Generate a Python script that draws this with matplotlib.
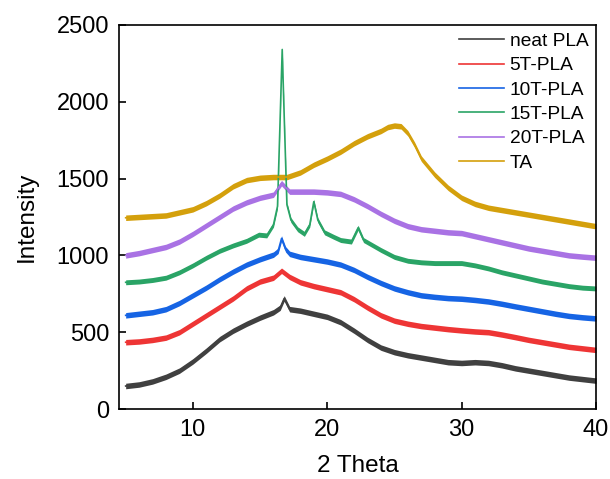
import numpy as np
import matplotlib.pyplot as plt

plt.rcParams['font.family'] = ['Liberation Sans', 'DejaVu Sans']

# 2 Theta positions (deg) and intensities of each XRD pattern
theta_neat = [5, 6, 7, 8, 9, 10, 11, 12, 13, 14, 15, 16, 16.5, 16.8, 17.2, 18, 19, 20, 21, 22, 23, 24, 25,
              26, 27, 28, 29, 30, 31, 32, 33, 34, 35, 36, 37, 38, 39, 40]
neat_pla = [150, 160, 180, 210, 250, 310, 380, 455, 510, 555, 595, 630, 660, 720, 650, 640, 620, 600, 565,
            510, 450, 400, 370, 350, 335, 320, 305, 300, 305, 300, 285, 265, 250, 235, 220, 205, 195, 185]

theta_5t = [5, 6, 7, 8, 9, 10, 11, 12, 13, 14, 15, 16, 16.6, 17.2, 18, 19, 20, 21, 22, 23, 24, 25,
            26, 27, 28, 29, 30, 31, 32, 33, 34, 35, 36, 37, 38, 39, 40]
pla_5t = [435, 440, 450, 465, 500, 555, 610, 665, 720, 785, 830, 855, 900, 860, 825, 800, 780, 760, 715,
          660, 610, 575, 555, 540, 530, 520, 512, 505, 500, 485, 468, 450, 435, 420, 405, 395, 385]

theta_10t = [5, 6, 7, 8, 9, 10, 11, 12, 13, 14, 15, 16, 16.35, 16.6, 16.9, 17.2, 18, 19, 20, 21, 22, 23, 24,
             25, 26, 27, 28, 29, 30, 31, 32, 33, 34, 35, 36, 37, 38, 39, 40]
pla_10t = [610, 620, 630, 650, 690, 740, 790, 845, 895, 940, 975, 1005, 1030, 1110, 1040, 1010, 990, 975,
           960, 940, 905, 860, 820, 785, 760, 740, 730, 722, 718, 710, 700, 685, 668, 652, 636, 620, 606,
           597, 590]

theta_15t = [5, 6, 7, 8, 9, 10, 11, 12, 13, 14, 14.9, 15.5, 16.0, 16.3, 16.5, 16.65, 16.8, 17.0, 17.3,
             17.8, 18.3, 18.7, 19.0, 19.3, 19.8, 20.5, 21, 21.8, 22.3, 22.7, 23.5, 24, 25, 26, 27, 28, 29,
             30, 31, 32, 33, 34, 35, 36, 37, 38, 39, 40]
pla_15t = [825, 830, 840, 855, 890, 935, 985, 1030, 1065, 1095, 1135, 1130, 1200, 1320, 1900, 2340, 1900,
           1330, 1230, 1170, 1140, 1200, 1350, 1230, 1150, 1120, 1100, 1090, 1180, 1100, 1060, 1035, 990,
           965, 955, 950, 950, 950, 935, 915, 890, 870, 850, 830, 815, 800, 790, 785]

theta_20t = [5, 6, 7, 8, 9, 10, 11, 12, 13, 14, 15, 16, 16.6, 17.2, 18, 19, 20, 21, 22, 23, 24, 25,
             26, 27, 28, 29, 30, 31, 32, 33, 34, 35, 36, 37, 38, 39, 40]
pla_20t = [1000, 1015, 1035, 1055, 1090, 1140, 1195, 1250, 1305, 1345, 1375, 1395, 1470, 1415, 1415, 1415,
           1410, 1400, 1365, 1320, 1270, 1225, 1190, 1170, 1160, 1150, 1145, 1125, 1105, 1085, 1065, 1045,
           1030, 1015, 1000, 992, 985]

theta_ta = [5, 6, 7, 8, 9, 10, 11, 12, 13, 14, 15, 16, 17, 18, 19, 20, 21, 22, 23, 24, 24.5, 25, 25.5,
            26, 26.5, 27, 28, 29, 30, 31, 32, 33, 34, 35, 36, 37, 38, 39, 40]
ta = [1245, 1250, 1255, 1260, 1280, 1300, 1340, 1390, 1450, 1490, 1505, 1510, 1510, 1540, 1590, 1630, 1675,
      1730, 1775, 1810, 1835, 1845, 1840, 1795, 1720, 1630, 1525, 1440, 1375, 1335, 1310, 1295, 1280,
      1265, 1250, 1235, 1220, 1205, 1190]

labels = ['neat PLA', '5T-PLA', '10T-PLA', '15T-PLA', '20T-PLA', 'TA']
colors = ['#404040', '#EE3535', '#1664E4', '#2AA466', '#A972E4', '#D4A00C']
noise = [18, 18, 18, 16, 18, 18]  # half-width of the counting-noise band

fig = plt.figure(figsize=(6.1, 4.79), dpi=100)
ax = fig.add_axes([0.195, 0.146, 0.782, 0.802])

series = [(theta_neat, neat_pla), (theta_5t, pla_5t), (theta_10t, pla_10t),
          (theta_15t, pla_15t), (theta_20t, pla_20t), (theta_ta, ta)]
for (x, y), lab, c, n in zip(series, labels, colors, noise):
    x = np.array(x)
    y = np.array(y)
    ax.fill_between(x, y - n, y + n, color=c, lw=0)
    ax.plot(x, y, color=c, lw=1.2, label=lab)

ax.set_xlim(4.5, 40)
ax.set_ylim(0, 2500)
ax.set_xticks([10, 20, 30, 40])
ax.set_yticks([0, 500, 1000, 1500, 2000, 2500])
ax.tick_params(direction='in', length=5, width=1.2, labelsize=17, pad=7)
for s in ax.spines.values():
    s.set_linewidth(1.2)
ax.set_xlabel('2 Theta', fontsize=17.5, labelpad=10)
ax.set_ylabel('Intensity', fontsize=17.5, labelpad=14)

ax.legend(loc='upper right', frameon=False, fontsize=13.8, handlelength=2.35,
          handletextpad=0.3, labelspacing=0.36, borderaxespad=0.15, borderpad=0.25)

plt.savefig('out.png', dpi=100)
